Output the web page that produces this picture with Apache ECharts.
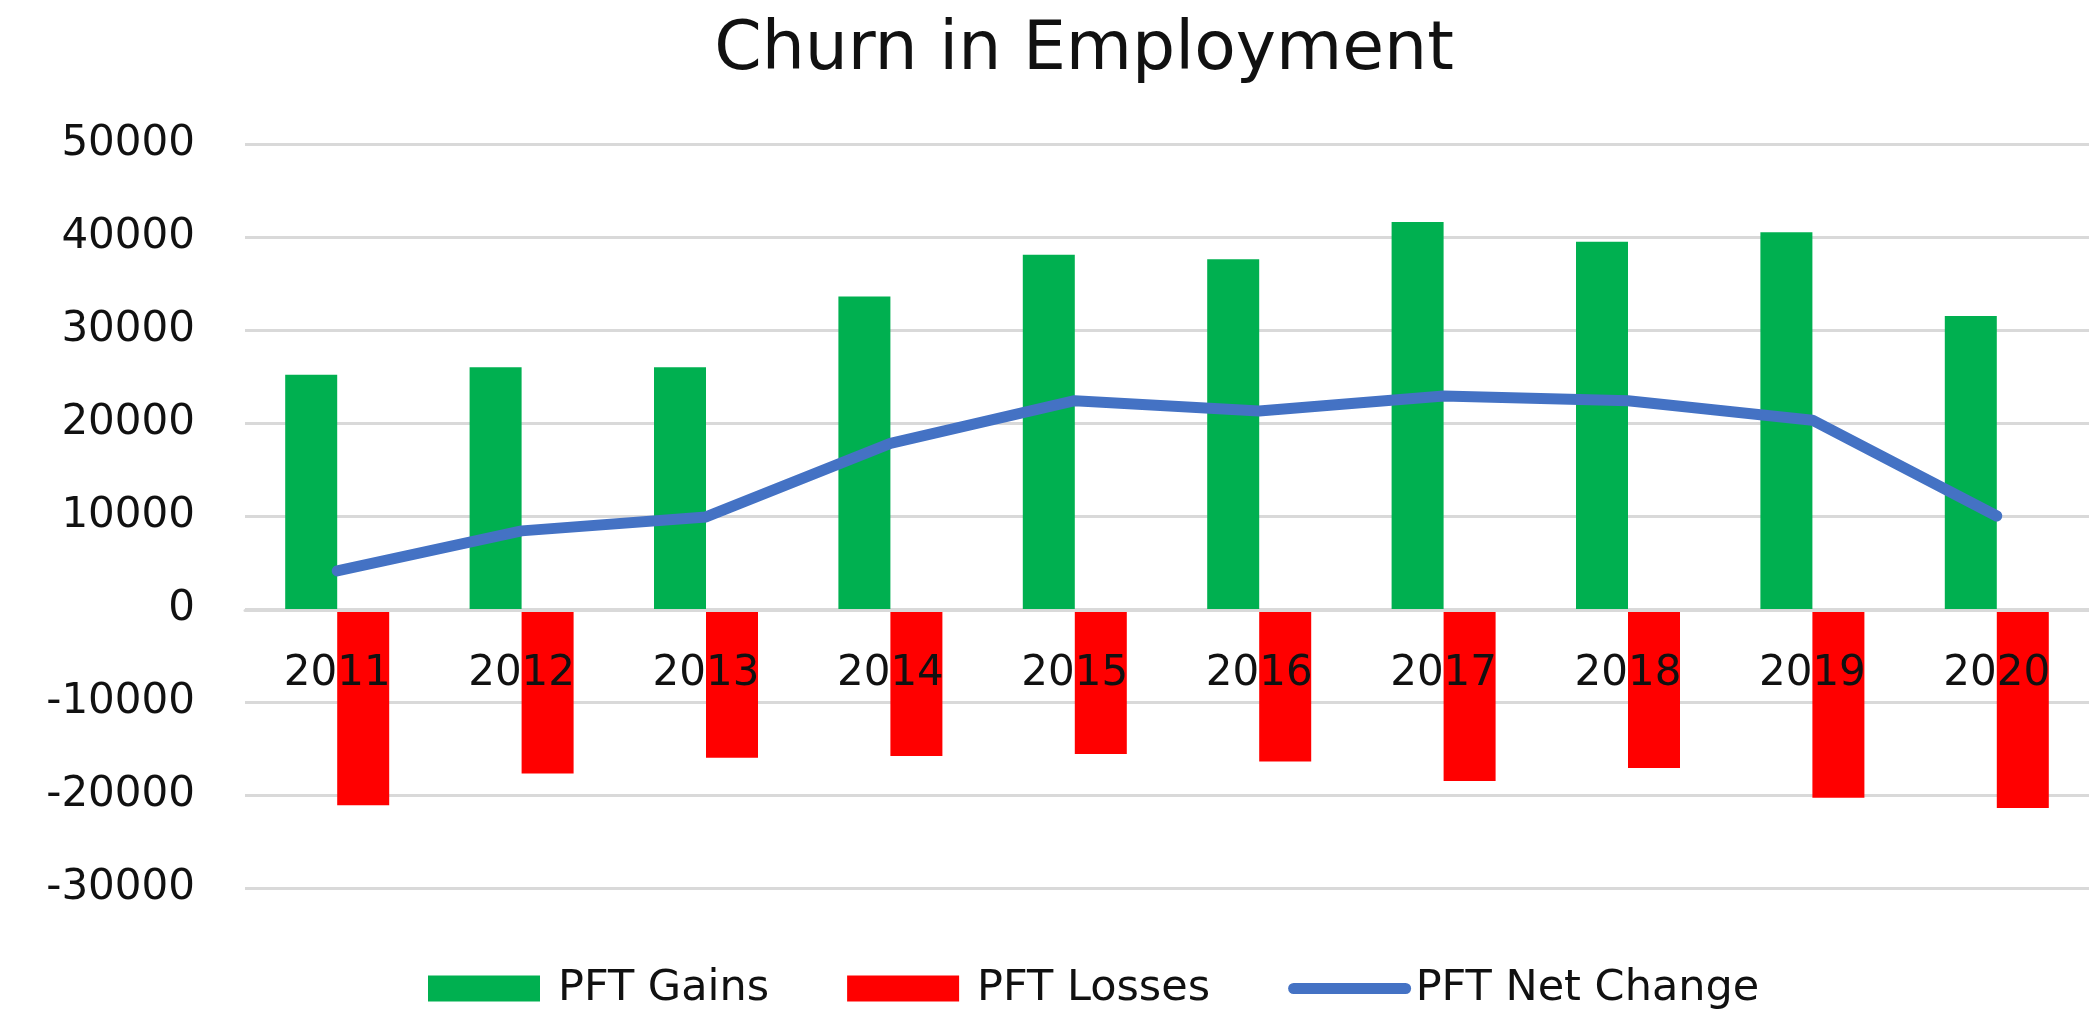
<!DOCTYPE html>
<html lang="en">
<head>
    <meta charset="UTF-8">
    <title>Churn in Employment</title>
    <script src="https://cdn.jsdelivr.net/npm/echarts@6/dist/echarts.min.js"></script>
    <style>
        html, body { margin: 0; padding: 0; background: #fff; }
        #chartContainer { width: 2089px; height: 1013px; }
    </style>
</head>
<body>
    <div id="chartContainer"></div>

    <script>
        // data
        const years = ['2011', '2012', '2013', '2014', '2015', '2016', '2017', '2018', '2019', '2020'];
        const gains = [25200, 26000, 26000, 33600, 38100, 37600, 41600, 39500, 40500, 31500];
        const losses = [-21100, -17700, -16000, -15800, -15600, -16400, -18500, -17100, -20300, -21400];
        const netChange = [4100, 8400, 9900, 17800, 22400, 21300, 22900, 22400, 20300, 10000];

        const font = 'DejaVu Sans';
        const chart = echarts.init(document.getElementById('chartContainer'));

        const option = {
            backgroundColor: '#ffffff',
            animation: false,
            title: {
                text: 'Churn in Employment',
                left: 1079,
                top: 12,
                textAlign: 'center',
                textStyle: {
                    fontFamily: font,
                    fontSize: 68,
                    fontWeight: 'normal',
                    color: '#111'
                }
            },
            legend: {
                left: 423,
                top: 962,
                itemWidth: 112,
                itemHeight: 26,
                itemGap: 78,
                textStyle: {
                    fontFamily: font,
                    fontSize: 43,
                    color: '#111',
                    padding: [0, 0, 0, 13]
                },
                data: [
                    { name: 'PFT Gains', icon: 'rect' },
                    { name: 'PFT Losses', icon: 'rect' },
                    {
                        name: 'PFT Net Change',
                        itemStyle: { opacity: 0 },
                        lineStyle: { width: 11, cap: 'round', color: '#4472C4' },
                        textStyle: { padding: [0, 0, 0, 5] }
                    }
                ]
            },
            grid: {
                left: 245,
                right: -10,
                top: 144,
                bottom: 125
            },
            xAxis: {
                type: 'category',
                data: years,
                z: 10,
                // sit the axis on the zero line (888 -> 610)
                offset: -278,
                axisLine: {
                    show: true,
                    onZero: false,
                    lineStyle: { color: '#d9d9d9', width: 3 }
                },
                axisTick: { show: false },
                axisLabel: {
                    margin: 43,
                    fontFamily: font,
                    fontSize: 42,
                    color: '#111'
                }
            },
            yAxis: {
                type: 'value',
                min: -30000,
                max: 50000,
                interval: 10000,
                axisLine: { show: false },
                axisTick: { show: false },
                axisLabel: {
                    margin: 50,
                    fontFamily: font,
                    fontSize: 42,
                    color: '#111',
                    formatter: v => String(v)
                },
                splitLine: {
                    show: true,
                    lineStyle: { color: '#d9d9d9', width: 3 }
                }
            },
            series: [
                {
                    name: 'PFT Gains',
                    type: 'bar',
                    data: gains,
                    barWidth: 52,
                    barGap: '0%',
                    itemStyle: { color: '#00B050' }
                },
                {
                    name: 'PFT Losses',
                    type: 'bar',
                    data: losses,
                    barWidth: 52,
                    barGap: '0%',
                    itemStyle: { color: '#FF0000' }
                },
                {
                    name: 'PFT Net Change',
                    type: 'line',
                    data: netChange,
                    showSymbol: false,
                    symbol: 'none',
                    itemStyle: { color: '#4472C4' },
                    lineStyle: {
                        color: '#4472C4',
                        width: 11,
                        cap: 'round',
                        join: 'round'
                    },
                    z: 5
                }
            ]
        };

        chart.setOption(option);
    </script>
</body>
</html>
